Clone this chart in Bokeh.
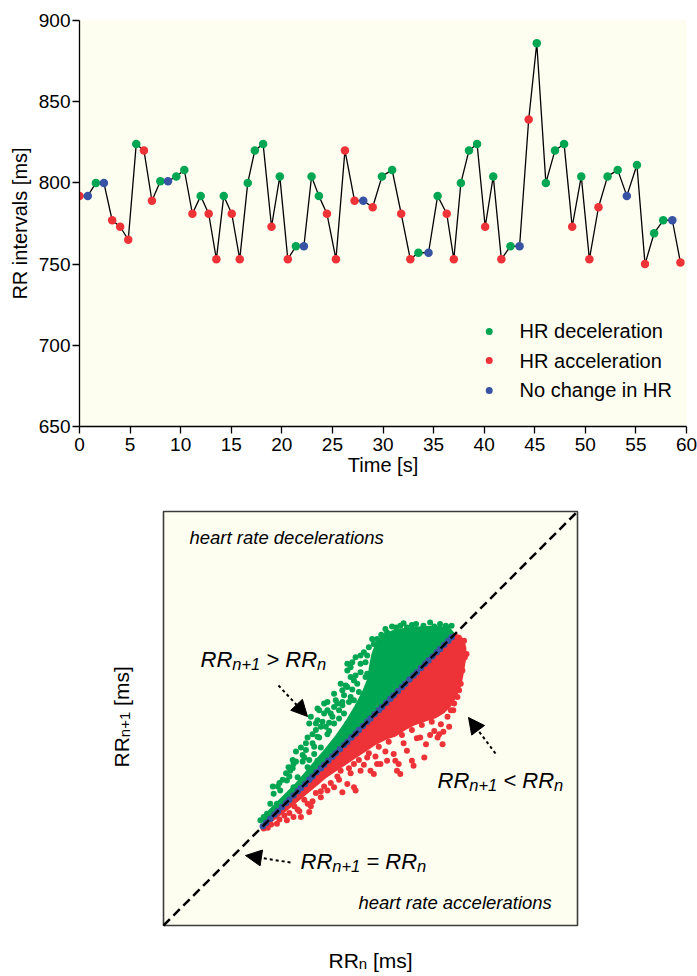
import math
from bokeh.plotting import figure
from bokeh.layouts import column
from bokeh.models import Range1d, FixedTicker, Arrow, NormalHead, ColumnDataSource
from bokeh.core.properties import value
from bokeh.embed import file_html
from bokeh.resources import INLINE

FONT = "Liberation Sans"
CREAM = "#fdfdf0"
GREEN = "#00a651"
RED = "#ee3338"
BLUE = "#3953a4"

# ---------------- top panel data: RR tachogram ----------------
time_s = [0.0, 0.82, 1.62, 2.41, 3.23, 4.02, 4.82, 5.61, 6.37, 7.16,
          7.99, 8.75, 9.57, 10.36, 11.16, 11.98, 12.77, 13.53, 14.26, 15.05,
          15.84, 16.63, 17.33, 18.15, 18.98, 19.80, 20.59, 21.39, 22.18, 22.94,
          23.66, 24.46, 25.35, 26.24, 27.19, 28.05, 28.98,
          29.9, 30.9, 31.8, 32.7, 33.5, 34.5, 35.4, 36.3, 37.0, 37.7,
          38.5, 39.3, 40.1, 40.9, 41.7, 42.6, 43.5, 44.4, 45.2, 46.1,
          47.0, 47.9, 48.7, 49.6, 50.4, 51.3, 52.2, 53.2, 54.1, 55.1,
          55.9, 56.8, 57.7, 58.6, 59.4]
rr_ms = [792, 792, 800, 800, 777, 773, 765, 824, 820, 789,
         801, 801, 804, 808, 781, 792, 781, 753, 792, 781,
         753, 800, 820, 824, 773, 804, 753, 761, 761, 804,
         792, 781, 753, 820, 789, 789, 785,
         804, 808, 781, 753, 757, 757, 792, 781, 753, 800,
         820, 824, 773, 804, 753, 761, 761, 839, 886, 800,
         820, 824, 773, 804, 753, 785, 804, 808, 792, 811,
         750, 769, 777, 777, 751]
hr_class = ["acc", "none", "dec", "none", "acc", "acc", "acc", "dec", "acc", "acc",
            "dec", "none", "dec", "dec", "acc", "dec", "acc", "acc", "dec", "acc",
            "acc", "dec", "dec", "dec", "acc", "dec", "acc", "dec", "none", "dec",
            "dec", "acc", "acc", "acc", "acc", "none", "acc",
            "dec", "dec", "acc", "acc", "dec", "none", "dec", "acc", "acc", "dec",
            "dec", "dec", "acc", "dec", "acc", "dec", "none", "acc", "dec", "dec",
            "dec", "dec", "acc", "dec", "acc", "acc", "dec", "dec", "none", "dec",
            "acc", "dec", "dec", "none", "acc"]
x_ticks = [0, 5, 10, 15, 20, 25, 30, 35, 40, 45, 50, 55, 60]
y_ticks = [650, 700, 750, 800, 850, 900]
legend_classes = ["dec", "acc", "none"]
legend_labels = ["HR deceleration", "HR acceleration", "No change in HR"]

# ---------------- bottom panel data: Poincaré plot (ms) ----------------
green_core_x = [622, 620, 626, 636, 648, 660, 672, 684, 696, 708, 720, 732, 742, 748,
                750, 753, 758, 766, 780, 795, 815, 835, 846, 851]
green_core_y = [622, 629, 636, 646, 658, 670, 684, 698, 712, 727, 744, 764, 783, 798,
                813, 828, 841, 850, 856, 858, 860, 860, 857, 851]
red_core_x = [622, 851, 858, 862, 864, 864, 862, 860, 857, 852, 846, 838, 828, 816,
              804, 792, 780, 768, 756, 744, 732, 720, 708, 696, 684, 672, 660, 648, 636, 626]
red_core_y = [622, 851, 849, 843, 835, 824, 812, 800, 788, 776, 766, 758, 752, 748,
              744, 738, 730, 726, 720, 712, 704, 696, 688, 680, 670, 660, 650, 640, 631, 623]

green_rr_n = [841, 827, 781, 763, 754, 742, 728, 722, 738, 726, 746, 734, 722, 716, 706,
              710, 694, 686, 698, 678, 676, 686, 690, 680, 674, 688, 698, 706, 718, 722,
              734, 742, 754, 744, 762, 730, 738, 714, 706, 690, 682, 666, 670, 657, 651,
              653, 662, 674, 686, 649, 641, 657, 633, 629, 637, 645, 625, 617, 621, 633,
              843, 814, 794, 770, 758, 748, 732, 722, 738,
              700, 712, 726, 716, 704, 692, 680, 668, 656, 648, 640, 632, 660, 672, 684,
              696, 708, 720, 730, 738, 744, 750,
              638, 644, 652, 656, 660, 668, 672, 676, 682, 686, 684, 688, 700, 702, 698,
              706, 712, 716, 718, 714, 728, 732, 726, 744, 746, 754, 760, 736, 724, 694,
              776, 790, 805, 822, 848, 834, 800, 786, 768, 752]
green_rr_n1 = [862, 861, 860, 851, 840, 830, 818, 808, 816, 800, 804, 792, 788, 784, 780,
               768, 768, 762, 760, 752, 744, 748, 740, 731, 727, 727, 731, 744, 756, 744,
               740, 752, 768, 772, 776, 772, 760, 727, 715, 715, 707, 715, 703, 695, 691,
               687, 679, 691, 699, 675, 663, 667, 659, 647, 647, 651, 635, 627, 631, 635,
               860, 862, 860, 854, 846, 836, 824, 816, 826,
               745, 760, 776, 770, 752, 746, 720, 706, 700, 684, 672, 668, 710, 720, 736,
               740, 772, 790, 796, 806, 818, 796,
               668, 676, 680, 690, 698, 698, 712, 700, 716, 728, 744, 760, 735, 756, 770,
               764, 750, 766, 778, 792, 785, 802, 812, 800, 826, 784, 790, 782, 770, 756,
               861, 865, 864, 866, 862, 864, 863, 862, 858, 846]

red_rr_n = [863, 864, 861, 857, 847, 845, 837, 817, 802, 786, 784, 770, 754, 750, 732,
            716, 730, 722, 690, 676, 657, 637, 621, 674, 666, 649, 698, 706, 738, 762,
            778, 794, 810, 827, 835, 843, 851, 855, 859, 831, 815, 782, 758, 746, 730,
            714, 740, 752, 764, 776, 728, 716, 704, 720, 860, 866, 833, 800, 780,
            640, 652, 662, 680, 694, 684, 670, 658, 646, 630, 626, 710, 724, 736, 748,
            760, 772, 788, 800, 812, 824,
            690, 702, 712, 726, 742, 756, 768, 790, 806, 822, 838, 850, 664, 678]
red_rr_n1 = [844, 824, 808, 784, 760, 740, 719, 719, 693, 683, 695, 699, 683, 687, 663,
             661, 667, 671, 655, 637, 631, 623, 617, 647, 631, 627, 663, 667, 687, 695,
             707, 711, 727, 735, 743, 752, 768, 776, 792, 727, 703, 687, 695, 703, 695,
             687, 715, 720, 728, 734, 708, 700, 690, 712, 840, 828, 731, 699, 699,
             628, 636, 640, 650, 668, 660, 652, 644, 633, 622, 618, 680, 690, 700, 708,
             716, 722, 730, 736, 742, 746,
             662, 672, 676, 684, 694, 704, 710, 720, 726, 730, 734, 760, 638, 644]

blue_rr = [620, 624, 629, 634, 638, 643, 648, 652, 657, 662, 666, 671, 676, 680, 685,
           690, 694, 699, 704, 708, 713, 718, 722, 727, 732, 736, 741, 746, 750, 755,
           760, 764, 769, 774, 778, 783, 788, 792, 797, 802, 806, 811, 816, 820, 825,
           830, 834, 839, 844, 848]
box_lo, box_hi = 500, 1000

palette = {"dec": GREEN, "acc": RED, "none": BLUE}

# ======================= TOP FIGURE =======================
p1 = figure(width=697, height=490, x_range=Range1d(0, 60), y_range=Range1d(650, 900),
            output_backend="svg", toolbar_location=None,
            min_border_left=79, min_border_right=11, min_border_top=20, min_border_bottom=64)
p1.background_fill_color = CREAM
p1.border_fill_color = "white"
p1.outline_line_color = None
p1.grid.visible = False
p1.xaxis.ticker = FixedTicker(ticks=x_ticks)
p1.yaxis.ticker = FixedTicker(ticks=y_ticks)
p1.xaxis.axis_label = "Time [s]"
p1.yaxis.axis_label = "RR intervals [ms]"
for ax in (p1.xaxis[0], p1.yaxis[0]):
    ax.axis_line_color = "black"
    ax.axis_line_width = 1.3
    ax.major_tick_line_color = "black"
    ax.major_tick_line_width = 1.3
    ax.major_tick_in = 0
    ax.major_tick_out = 7
    ax.minor_tick_line_color = None
    ax.major_label_text_font = FONT
    ax.major_label_text_font_size = "19px"
    ax.major_label_text_color = "black"
    ax.axis_label_text_font = FONT
    ax.axis_label_text_font_size = "20px"
    ax.axis_label_text_font_style = "normal"
    ax.axis_label_text_color = "black"
p1.xaxis.major_label_standoff = 4
p1.yaxis.major_label_standoff = 2
p1.xaxis.axis_label_standoff = 0
p1.yaxis.axis_label_standoff = 5

src = ColumnDataSource(dict(t=time_s, rr=rr_ms, c=[palette[k] for k in hr_class]))
p1.line("t", "rr", source=src, line_color="black", line_width=1.3)
p1.scatter("t", "rr", source=src, size=8.5, fill_color="c", line_color=None)

# legend (drawn manually inside the frame)
leg_y = [708.5, 690.6, 672.2]
p1.scatter(x=[40.5] * 3, y=leg_y, size=7, fill_color=[palette[k] for k in legend_classes],
           line_color=None)
p1.text(x=[43.5] * 3, y=leg_y, text=legend_labels, text_font=value(FONT),
        text_font_size="20px", text_baseline="middle", text_align="left", text_color="black")

# ======================= BOTTOM FIGURE =======================
S = 414.0 / (box_hi - box_lo)   # px per ms
FL, FR = 79, 686                # frame edges (aligned with the top figure)
BASE = 8                        # baseline correction of bokeh text boxes (px)


def bx(X):
    return box_lo + (X - 163) / S


def by(Y):
    return box_lo + (925 - Y) / S


p2 = figure(width=697, height=486, x_range=Range1d(bx(FL), bx(FR)), y_range=Range1d(by(976), by(490)),
            output_backend="svg", toolbar_location=None,
            min_border_left=FL, min_border_right=697 - FR, min_border_top=0, min_border_bottom=0,
            x_axis_location=None, y_axis_location=None)
p2.grid.visible = False
p2.outline_line_color = None
p2.background_fill_color = "white"
p2.border_fill_color = "white"

p2.quad(left=[box_lo], right=[box_hi], bottom=[box_lo], top=[box_hi],
        fill_color=CREAM, line_color="#3c3c3c", line_width=1.6)

p2.patch(green_core_x, green_core_y, fill_color=GREEN, line_color=GREEN, line_width=3, line_join="round")
p2.patch(red_core_x, red_core_y, fill_color=RED, line_color=RED, line_width=3, line_join="round")
p2.scatter(green_rr_n, green_rr_n1, size=6, fill_color=GREEN, line_color=None)
p2.scatter(red_rr_n, red_rr_n1, size=6, fill_color=RED, line_color=None)
p2.scatter(blue_rr, blue_rr, size=6.5, fill_color=BLUE, line_color=None)
p2.line([box_lo, box_hi], [box_lo, box_hi], line_color="black", line_width=2.5, line_dash="9 5")

W = {"R": 0.722, "n": 0.556, "+": 0.584, "1": 0.556, " ": 0.278, ">": 0.584, "<": 0.584,
     "=": 0.584, "[": 0.278, "m": 0.833, "s": 0.5, "]": 0.278}


def tw(s, size):
    return sum(W[c] for c in s) * size


def formula(X, Y, parts, angle=0.0, style="italic", sub_shift=4):
    off = 0.0
    for txt, size, sub in parts:
        lead = len(txt) - len(txt.lstrip())
        start = off + lead * 0.278 * size
        shift = sub_shift if sub else 0
        if angle == 0:
            xo, yo = start, shift
            px, py = X, Y - BASE
        else:
            xo, yo = shift, -start
            px, py = X - BASE, Y
        p2.text(x=[bx(px)], y=[by(py)], text=[txt.strip()], x_offset=xo, y_offset=yo, angle=angle,
                text_font=value(FONT), text_font_style=style, text_font_size=f"{size}px",
                text_baseline="alphabetic", text_align="left", text_color="black")
        off += tw(txt, size)


F, f = 22, 16.5
formula(200, 667, [("RR", F, False), ("n+1", f, True), (" > RR", F, False), ("n", f, True)])
formula(437, 788, [("RR", F, False), ("n+1", f, True), (" < RR", F, False), ("n", f, True)])
formula(300, 869, [("RR", F, False), ("n+1", f, True), (" = RR", F, False), ("n", f, True)])

p2.text(x=[bx(189)], y=[by(545 - BASE)], text=["heart rate decelerations"], text_font=value(FONT),
        text_font_style="italic", text_font_size="18.5px", text_baseline="alphabetic", text_color="black")
p2.text(x=[bx(358)], y=[by(910 - BASE)], text=["heart rate accelerations"], text_font=value(FONT),
        text_font_style="italic", text_font_size="18.5px", text_baseline="alphabetic", text_color="black")

# axis labels with subscripts
formula(328, 968, [("RR", 21, False), ("n", 15, True), (" [ms]", 21, False)], style="normal", sub_shift=3)
formula(129, 767, [("RR", 21, False), ("n+1", 15, True), (" [ms]", 21, False)],
        angle=math.pi / 2, style="normal", sub_shift=3)

for (x0, y0, x1, y1) in [(278, 685, 307, 716), (495, 753, 468, 717), (290, 862, 245, 855)]:
    p2.add_layout(Arrow(end=NormalHead(size=16, fill_color="black", line_color="black"),
                        x_start=bx(x0), y_start=by(y0), x_end=bx(x1), y_end=by(y1),
                        line_color="black", line_width=2, line_dash="3 3"))

layout = column(p1, p2, spacing=0)
open("out.html", "w").write(file_html(layout, INLINE))
